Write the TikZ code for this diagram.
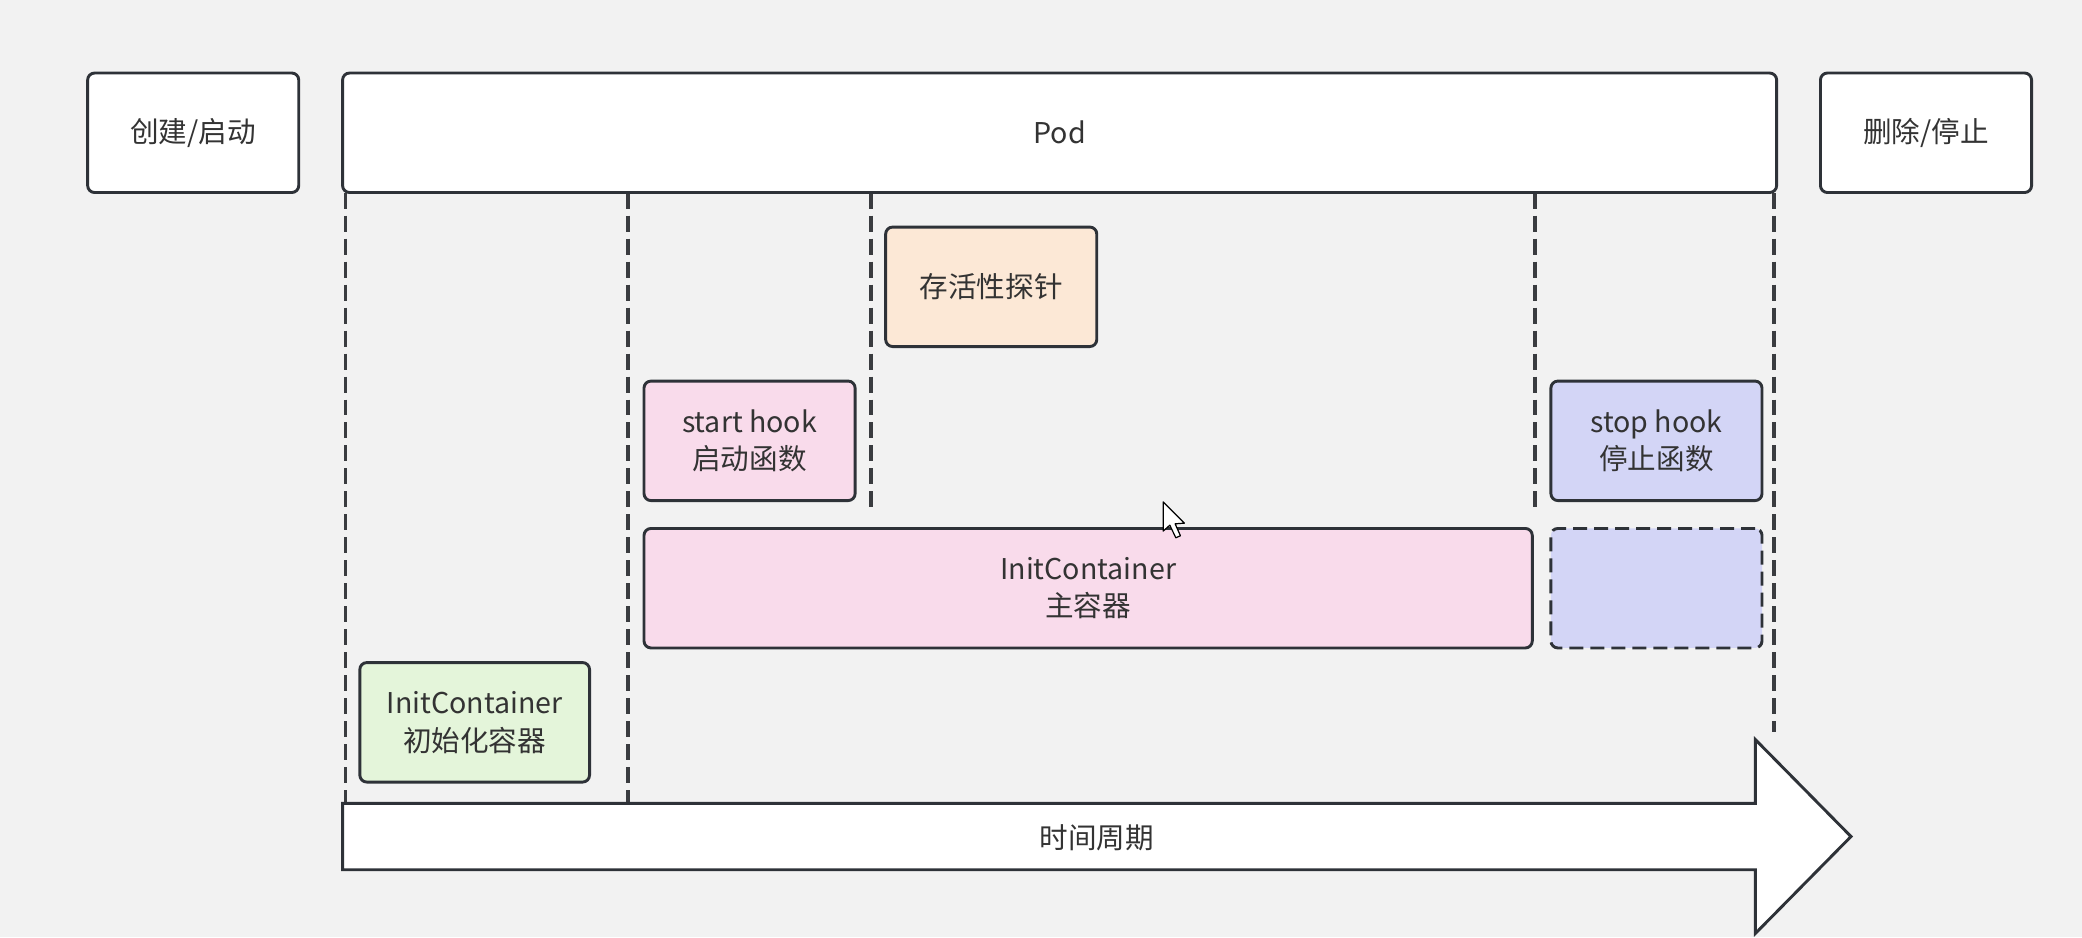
\documentclass[tikz,border=0pt]{standalone}
\usepackage{fontspec}
\setmainfont{Noto Sans CJK SC}
\definecolor{bg}{HTML}{F2F2F2}
\definecolor{ink}{HTML}{2E3238}
\definecolor{dashc}{HTML}{3A3C40}
\definecolor{txt}{HTML}{333333}
\definecolor{peach}{HTML}{FCE8D6}
\definecolor{pinkf}{HTML}{F9DBEB}
\definecolor{lav}{HTML}{D3D5F6}
\definecolor{greenf}{HTML}{E4F5DA}
\newcommand\mybox[7]{\node[#6, minimum width={(#4-#2)*0.664pt}, minimum height={(#5-#3)*0.664pt}] (#1) at ({(#2+#4)/2},{(#3+#5)/2}) {#7};}
\tikzset{
  boxs/.style={draw=ink, line width=1.45pt, rounded corners=3.5pt, inner sep=0pt, outer sep=0pt, align=center, text=txt, font=\fontsize{14.3pt}{18.8pt}\selectfont},
  vline/.style={draw=dashc, line width=1.6pt, dash pattern=on 8pt off 3.5pt},
}
\begin{document}
\begin{tikzpicture}[x=0.664pt,y=-0.664pt]
\useasboundingbox (0,0) rectangle (1568,706);
\fill[bg] (0,0) rectangle (1568,706);
% dashed time lines
\coordinate (v1t) at (260,145); \coordinate (v1b) at (260,605);
\coordinate (v2t) at (473,145); \coordinate (v2b) at (473,605);
\coordinate (v3t) at (656,145); \coordinate (v3b) at (656,384);
\coordinate (v4t) at (1156,145); \coordinate (v4b) at (1156,384);
\coordinate (v5t) at (1336,145); \coordinate (v5b) at (1336,551);
\foreach \i in {1,...,5} {\draw[vline] (v\i t) -- (v\i b);}
% top row
\mybox{create}{66}{55}{225}{145}{boxs, fill=white}{创建/启动}
\mybox{pod}{258}{55}{1338}{145}{boxs, fill=white}{Pod}
\mybox{delete}{1371}{55}{1530}{145}{boxs, fill=white}{删除/停止}
% boxes
\mybox{probe}{667}{171}{826}{261}{boxs, fill=peach}{存活性探针}
\mybox{start}{485}{287}{644}{377}{boxs, fill=pinkf}{start hook\\启动函数}
\mybox{stop}{1168}{287}{1327}{377}{boxs, fill=lav}{stop hook\\停止函数}
\mybox{main}{485}{398}{1154}{488}{boxs, fill=pinkf}{InitContainer\\主容器}
\mybox{stopc}{1168}{398}{1327}{488}{boxs, fill=lav, dash pattern=on 7pt off 3.5pt}{}
\mybox{init}{271}{499}{444}{589}{boxs, fill=greenf}{InitContainer\\初始化容器}
% time arrow
\draw[draw=ink, line width=1.45pt, fill=white, line join=miter]
  (258,605) -- (1322,605) -- (1322,557) -- (1394,630) -- (1322,703) -- (1322,655) -- (258,655) -- cycle;
\node[text=txt, font=\fontsize{14.3pt}{18.8pt}\selectfont] (time) at (826,631) {时间周期};
% mouse cursor
\draw[draw=black, line width=0.6pt, fill=white, line join=round]
  (876,378) -- (876,400) -- (881,395.5) -- (885.5,405) -- (889,403.5) -- (885,394.5) -- (892,394) -- cycle;
\end{tikzpicture}
\end{document}
